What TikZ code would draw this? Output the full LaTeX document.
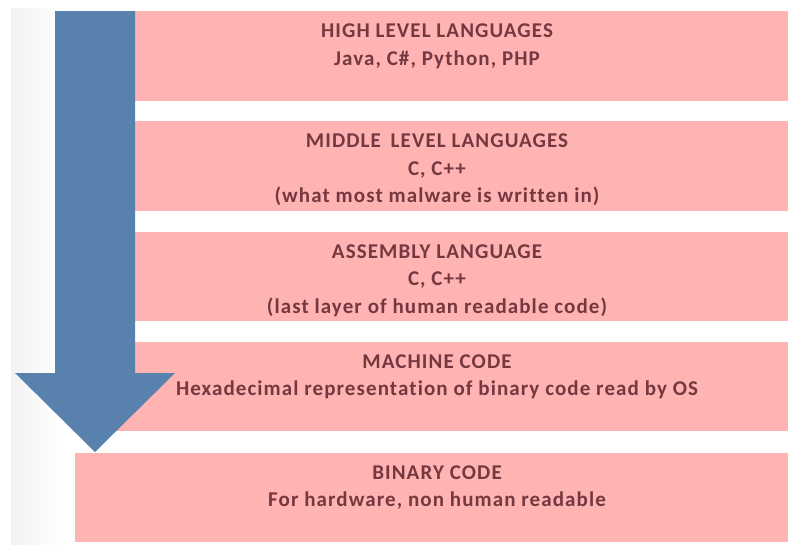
\documentclass[tikz,border=0pt]{standalone}
\usepackage{fontspec}
\setmainfont{Carlito}[LetterSpace=5.2, Ligatures={NoCommon}]
\definecolor{layerpink}{RGB}{255,179,179}
\definecolor{flowblue}{RGB}{88,130,173}
\definecolor{labelred}{RGB}{118,56,64}
\begin{document}
\begin{tikzpicture}[x=1pt,y=-1pt,
  layer/.style={fill=layerpink, draw=none, anchor=north west,
    minimum height=89.5pt, inner sep=0pt, outer sep=0pt},
  layertext/.style={font=\bfseries\fontsize{21}{26}\selectfont,
    text=labelred, anchor=base, inner sep=0pt}]
\useasboundingbox (0,0) rectangle (789,544);
\fill[white] (0,0) rectangle (789,544);
% faint vignette along the left edge
\shade[left color=black!5, right color=white] (11,8) rectangle (60,544);

% the five layers
\node[layer, minimum width=653pt] (b1) at (135,11) {};
\node[layer, minimum width=653pt] (b2) at (135,121.3) {};
\node[layer, minimum width=653pt] (b3) at (135,231.6) {};
\node[layer, minimum width=713pt] (b4) at (75,341.9) {};
\node[layer, minimum width=713pt] (b5) at (75,452.5) {};

% downward arrow
\fill[flowblue] (55,11) -- (135,11) -- (135,373) -- (175,373) -- (95,452)
  -- (15,373) -- (55,373) -- cycle;

% labels
\node[layertext] (t1a) at (437,37.5) {HIGH LEVEL LANGUAGES};
\node[layertext] (t1b) at (437,65) {Java, C\#, Python, PHP};

\node[layertext] (t2a) at (437,147.8) {MIDDLE\hspace{4pt} LEVEL LANGUAGES};
\node[layertext] (t2b) at (437,175.3) {C, C++};
\node[layertext] (t2c) at (437,202.8) {(what most malware is written in)};

\node[layertext] (t3a) at (437,258.1) {ASSEMBLY LANGUAGE};
\node[layertext] (t3b) at (437,285.6) {C, C++};
\node[layertext] (t3c) at (437,313.1) {(last layer of human readable code)};

\node[layertext] (t4a) at (437,368.4) {MACHINE CODE};
\node[layertext] (t4b) at (437,395.9) {Hexadecimal representation of binary code read by OS};

\node[layertext] (t5a) at (437,479) {BINARY CODE};
\node[layertext] (t5b) at (437,506.5) {For hardware, non human readable};
\end{tikzpicture}
\end{document}
